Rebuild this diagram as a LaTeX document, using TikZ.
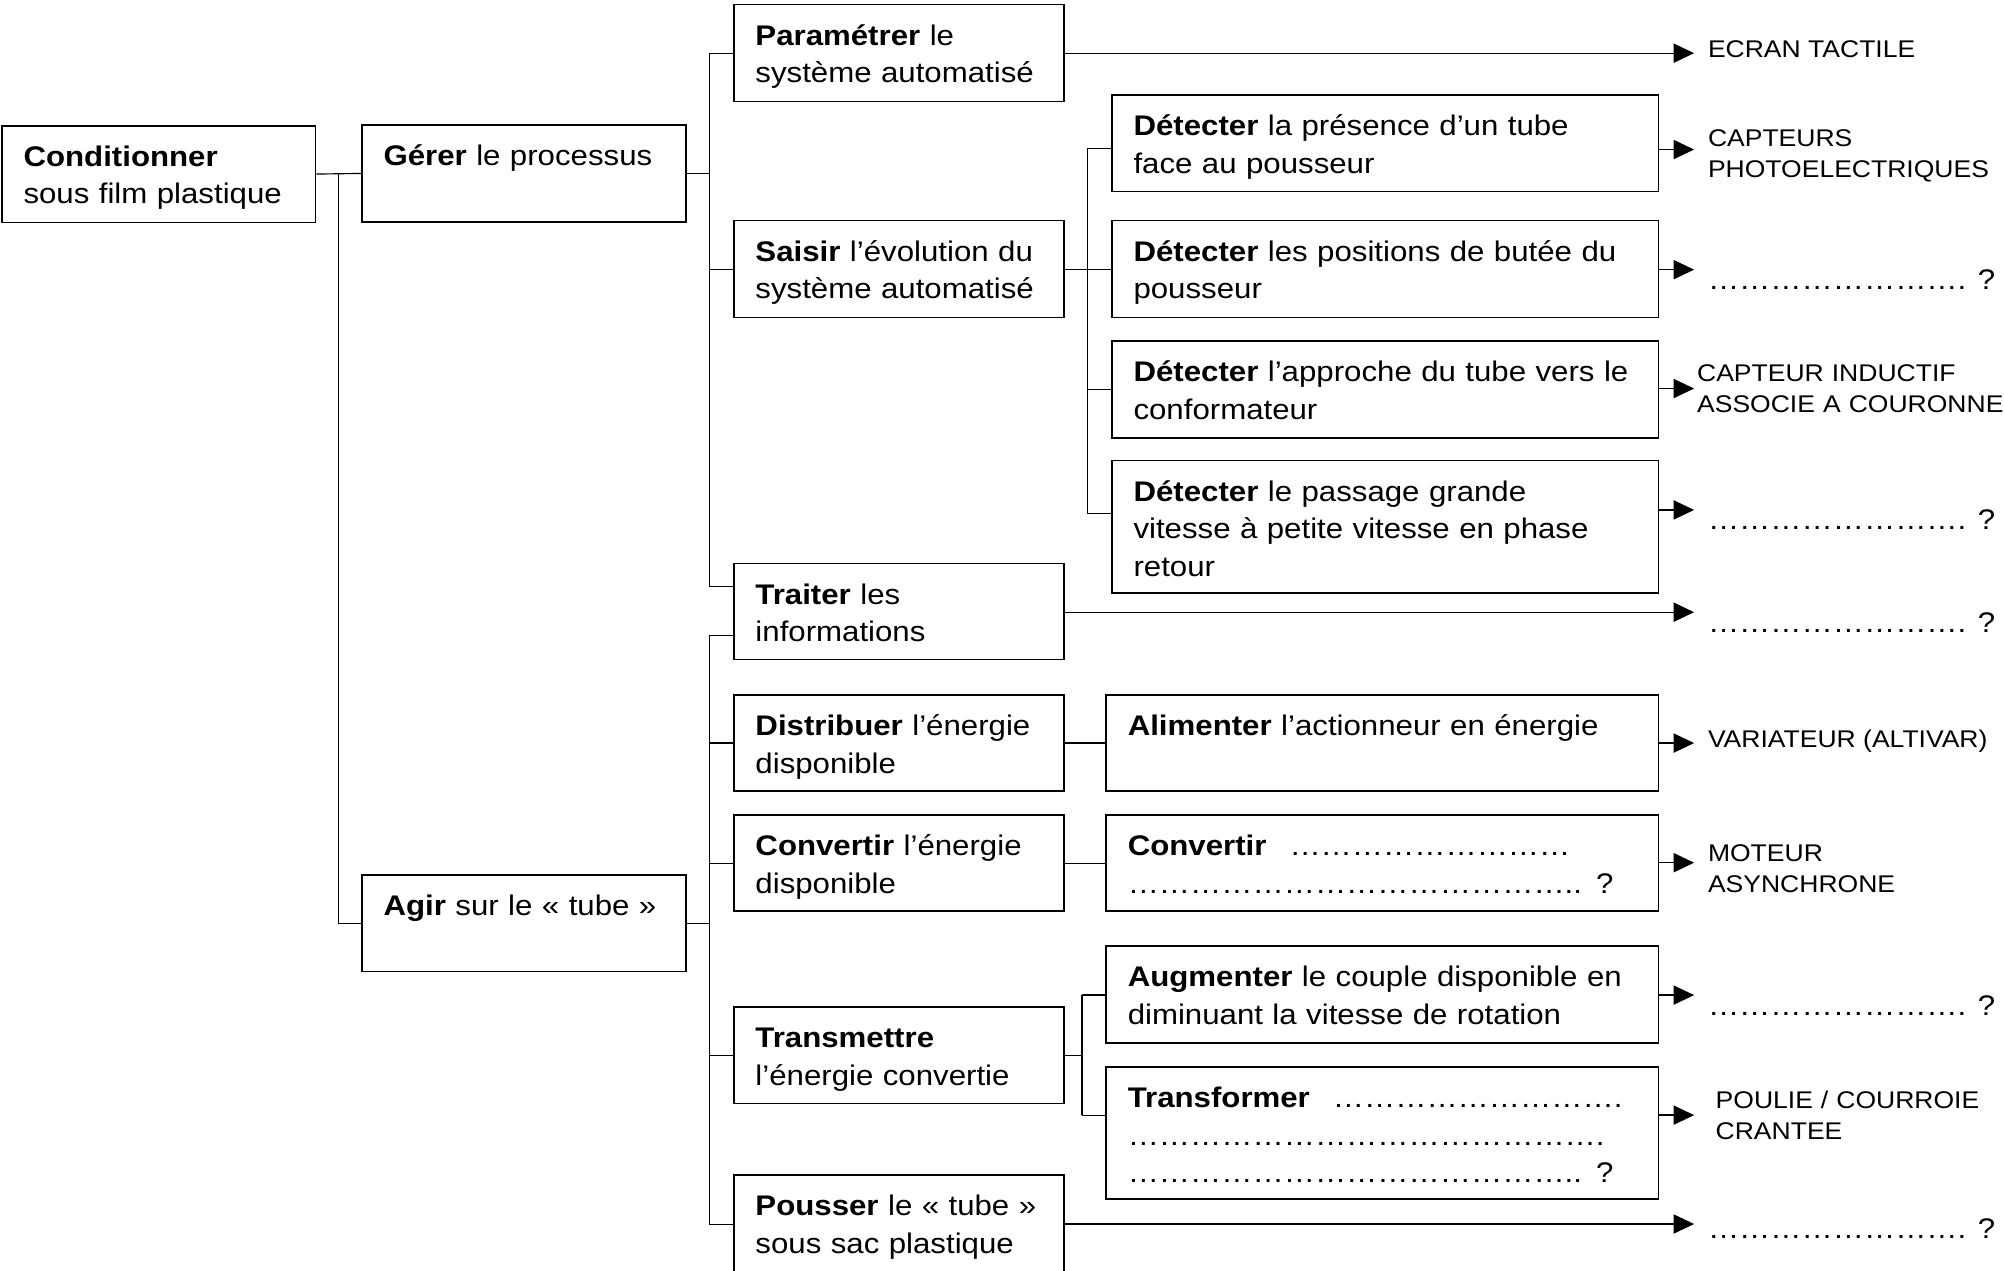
\documentclass[tikz,border=0pt]{standalone}
\usepackage{fontspec}
\setmainfont{Liberation Sans}[FakeStretch=1.1]
\usetikzlibrary{fit,arrows.meta}
\newcommand\mainf{\fontsize{11.1}{14.6}\selectfont}
\newcommand\labf{\fontsize{9.43}{12}\selectfont}
\newcommand\qdots{……………………. ?}
% box: name, x1, y1, x2, y2, text
\newcommand\fbx[6]{%
  \node[box, fit={(#2,#3) (#4,#5)}] (#1) {};
  \node[txt, text width={0.5pt*(#4-#2-12)}] (#1t) at (#2+16.5,#3+32) {#6};
}
\tikzset{
  box/.style={draw, line width=0.6pt, inner sep=0pt},
  txt/.style={anchor=base west, inner sep=0pt, align=left, font=\mainf},
  lab/.style={anchor=base west, inner sep=0pt, align=left, font=\labf},
  conn/.style={line width=0.45pt},
  arr/.style={line width=0.5pt, -{Triangle[length=8pt,width=7.5pt]}},
}
\begin{document}
\begin{tikzpicture}[x=0.5pt,y=-0.5pt]
\clip (0,0) rectangle (1568,994);
\fill[white] (0,0) rectangle (1568,994);

% boxes
\fbx{cond}{1.5}{98.4}{247}{174}{\textbf{Conditionner}\\sous film plastique}
\fbx{ger}{283.2}{97.8}{536.8}{173.6}{\textbf{Gérer} le processus}
\fbx{agir}{283.2}{684.5}{536.8}{760}{\textbf{Agir} sur le « tube »}
\fbx{par}{574.2}{3.7}{832.7}{79.5}{\textbf{Paramétrer} le\\système automatisé}
\fbx{sai}{574.2}{172.6}{832.7}{248.5}{\textbf{Saisir} l’évolution du\\système automatisé}
\fbx{trait}{574.2}{441}{832.7}{516}{\textbf{Traiter} les\\informations}
\fbx{dis}{574.2}{543.7}{832.7}{619}{\textbf{Distribuer} l’énergie\\disponible}
\fbx{conv}{574.2}{637.7}{832.7}{713}{\textbf{Convertir} l’énergie\\disponible}
\fbx{tra}{574.2}{787.8}{832.7}{863.4}{\textbf{Transmettre}\\l’énergie convertie}
\fbx{pou}{574.2}{919.3}{832.7}{996.5}{\textbf{Pousser} le « tube »\\sous sac plastique}
\fbx{da}{870}{74.3}{1297.5}{150}{\textbf{Détecter} la présence d’un tube\\face au pousseur}
\fbx{db}{870}{172.6}{1297.5}{248.5}{\textbf{Détecter} les positions de butée du\\pousseur}
\fbx{dc}{870}{266.7}{1297.5}{342.5}{\textbf{Détecter} l’approche du tube vers le\\conformateur}
\fbx{dd}{870}{360.4}{1297.5}{464.1}{\textbf{Détecter} le passage grande\\vitesse à petite vitesse en phase\\retour}
\fbx{ali}{865.5}{543.7}{1297.5}{619}{\textbf{Alimenter} l’actionneur en énergie}
\fbx{convb}{865.5}{637.7}{1297.5}{713}{\textbf{Convertir}\hspace{9pt}………………………\\…………………………………….. ?}
\fbx{aug}{865.5}{740.2}{1297.5}{816}{\textbf{Augmenter} le couple disponible en\\diminuant la vitesse de rotation}
\fbx{trf}{865.5}{834.7}{1297.5}{938.2}{\textbf{Transformer}\hspace{9pt}……………………….\\……………………………………….\\…………………………………….. ?}

% level 1 connectors
\coordinate (b0) at (265,0);
\draw[conn] (cond.east) -- (ger.west);
\draw[conn] (cond.east -| b0) |- (agir.west);

% Gerer bus
\coordinate (gTop) at (555,41.6);
\coordinate (gBot) at (555,459);
\draw[conn] (ger.east) -- (ger.east -| gTop);
\draw[conn] (gTop) -- (gBot);
\draw[conn] (gTop) -- (gTop -| par.west);
\draw[conn] (sai.west -| gTop) -- (sai.west);
\draw[conn] (gBot) -- (gBot -| trait.west);

% Agir bus
\coordinate (aTop) at (555,497);
\draw[conn] (aTop) -- (aTop -| trait.west);
\draw[conn] (aTop) |- (pou.west);
\draw[conn] (agir.east) -- (agir.east -| aTop);
\draw[conn] (dis.west -| aTop) -- (dis.west);
\draw[conn] (conv.west -| aTop) -- (conv.west);
\draw[conn] (tra.west -| aTop) -- (tra.west);

% Saisir bus
\coordinate (sTop) at (851,116);
\coordinate (sBot) at (851,402);
\draw[conn] (sai.east) -- (sai.east -| sTop);
\draw[conn] (sTop) -- (sBot);
\draw[conn] (sTop) -- (sTop -| da.west);
\draw[conn] (db.west -| sTop) -- (db.west);
\draw[conn] (dc.west -| sTop) -- (dc.west);
\draw[conn] (sBot) -- (sBot -| dd.west);

% Distribuer / Convertir
\draw[conn] (dis.east) -- (ali.west);
\draw[conn] (conv.east) -- (convb.west);

% Transmettre bus
\coordinate (tTop) at (846.6,778.5);
\coordinate (tBot) at (846.6,872.5);
\draw[conn] (tra.east) -- (tra.east -| tTop);
\draw[conn] (tTop) -- (tBot);
\draw[conn] (tTop) -- (tTop -| aug.west);
\draw[conn] (tBot) -- (tBot -| trf.west);

% arrow tips
\coordinate (e1) at (1325.5,41.6);
\coordinate (e2) at (1325.5,117);
\coordinate (e3) at (1325.5,211);
\coordinate (e4) at (1325.5,304);
\coordinate (e5) at (1325.5,399);
\coordinate (e6) at (1325.5,479);
\coordinate (e7) at (1325.5,581.4);
\coordinate (e8) at (1325.5,675);
\coordinate (e9) at (1325.5,778.6);
\coordinate (e10) at (1325.5,872.5);
\coordinate (e11) at (1325.5,957.7);
\draw[arr] (e1 -| par.east) -- (e1);
\draw[arr] (e2 -| da.east) -- (e2);
\draw[arr] (e3 -| db.east) -- (e3);
\draw[arr] (e4 -| dc.east) -- (e4);
\draw[arr] (e5 -| dd.east) -- (e5);
\draw[arr] (e6 -| trait.east) -- (e6);
\draw[arr] (e7 -| ali.east) -- (e7);
\draw[arr] (e8 -| convb.east) -- (e8);
\draw[arr] (e9 -| aug.east) -- (e9);
\draw[arr] (e10 -| trf.east) -- (e10);
\draw[arr] (e11 -| pou.east) -- (e11);

% labels
\node[lab] (l1) at (1336,45) {ECRAN TACTILE};
\node[lab, text width=120pt] (l2) at (1336,115) {CAPTEURS\\PHOTOELECTRIQUES};
\node[txt] (l3) at (1336,226.5) {\qdots};
\node[lab, text width=120pt] (l4) at (1327.5,298.6) {CAPTEUR INDUCTIF\\ASSOCIE A COURONNE};
\node[txt] (l5) at (1336,414.5) {\qdots};
\node[txt] (l6) at (1336,495) {\qdots};
\node[lab] (l7) at (1336,585) {VARIATEUR (ALTIVAR)};
\node[lab, text width=110pt] (l8) at (1336,674) {MOTEUR\\ASYNCHRONE};
\node[txt] (l9) at (1336,794.5) {\qdots};
\node[lab, text width=110pt] (l10) at (1342,867.4) {POULIE / COURROIE\\CRANTEE};
\node[txt] (l11) at (1336,969) {\qdots};
\end{tikzpicture}
\end{document}
